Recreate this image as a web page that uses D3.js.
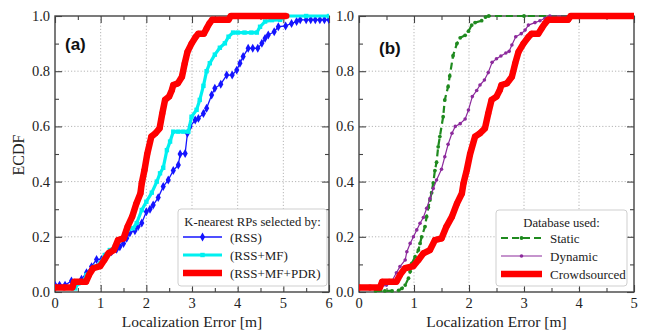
<!DOCTYPE html>
<html>
<head>
<meta charset="utf-8">
<script src="https://cdn.jsdelivr.net/npm/d3@7"></script>
<style>
  html, body { margin: 0; padding: 0; background: #fff; }
  svg { display: block; }
</style>
</head>
<body>
<svg id="chart" width="645" height="331"></svg>
<script>
// ---- ECDF samples: [error (m), cumulative fraction] ----
const rssOnly = [[0,0.025],[0.1,0.025],[0.22,0.025],[0.36,0.04],[0.58,0.046],[0.69,0.07],[0.8,0.092],[0.91,0.118],[1.02,0.118],[1.09,0.128],[1.24,0.146],[1.35,0.155],[1.42,0.164],[1.5,0.176],[1.57,0.195],[1.64,0.215],[1.75,0.222],[1.82,0.237],[1.9,0.25],[2.0,0.291],[2.08,0.3],[2.15,0.315],[2.26,0.342],[2.37,0.382],[2.48,0.406],[2.59,0.44],[2.7,0.46],[2.74,0.5],[2.85,0.502],[2.9,0.575],[2.96,0.6],[3.07,0.623],[3.14,0.629],[3.25,0.647],[3.32,0.666],[3.43,0.714],[3.5,0.738],[3.63,0.753],[3.76,0.786],[3.88,0.786],[3.98,0.804],[4.05,0.829],[4.12,0.853],[4.23,0.883],[4.33,0.883],[4.44,0.883],[4.53,0.901],[4.6,0.919],[4.67,0.931],[4.8,0.943],[4.89,0.961],[5.05,0.964],[5.18,0.973],[5.29,0.98],[5.37,0.986],[5.5,0.986],[5.6,0.986],[5.7,0.986],[5.8,0.986],[5.9,0.986],[6.0,0.986]];

const rssMf = [[0.44,0.013],[0.51,0.031],[0.62,0.037],[0.69,0.062],[0.77,0.074],[0.88,0.092],[0.99,0.104],[1.09,0.134],[1.2,0.152],[1.31,0.164],[1.42,0.188],[1.53,0.207],[1.6,0.225],[1.71,0.231],[1.79,0.25],[1.9,0.297],[2.0,0.327],[2.12,0.36],[2.23,0.4],[2.3,0.43],[2.37,0.45],[2.45,0.514],[2.52,0.545],[2.59,0.581],[2.7,0.581],[2.81,0.581],[2.92,0.581],[2.99,0.635],[3.1,0.66],[3.17,0.696],[3.25,0.747],[3.32,0.8],[3.39,0.829],[3.5,0.86],[3.61,0.885],[3.72,0.901],[3.8,0.925],[3.9,0.94],[4.0,0.94],[4.15,0.94],[4.3,0.94],[4.42,0.94],[4.49,0.961],[4.6,0.98],[4.75,0.985],[4.93,0.986],[5.07,1.0],[5.5,1.0],[6.0,1.0]];

// RSS+MF+PDR selection, which is also the crowdsourced database result
const rssMfPdr = [[0,0.016],[0.2,0.016],[0.38,0.016],[0.42,0.037],[0.55,0.037],[0.68,0.037],[0.745,0.062],[0.836,0.086],[0.99,0.094],[1.08,0.116],[1.17,0.14],[1.29,0.152],[1.38,0.188],[1.5,0.194],[1.59,0.237],[1.69,0.273],[1.78,0.32],[1.87,0.357],[1.9,0.394],[1.96,0.442],[2.02,0.5],[2.11,0.563],[2.2,0.575],[2.29,0.593],[2.35,0.647],[2.41,0.696],[2.5,0.708],[2.56,0.732],[2.59,0.75],[2.69,0.756],[2.78,0.78],[2.84,0.828],[2.9,0.87],[2.99,0.9],[3.08,0.924],[3.14,0.936],[3.26,0.936],[3.32,0.955],[3.38,0.973],[3.44,0.986],[3.6,0.986],[3.8,0.986],[3.85,1.0],[4.5,1.0],[5.07,1.0]];

const staticDb = [[0.3,0.004],[0.47,0.004],[0.6,0.004],[0.72,0.006],[0.78,0.013],[0.84,0.025],[0.9,0.05],[0.93,0.074],[0.96,0.104],[1.02,0.128],[1.08,0.152],[1.11,0.176],[1.14,0.2],[1.2,0.237],[1.23,0.273],[1.26,0.306],[1.29,0.333],[1.32,0.36],[1.35,0.395],[1.38,0.44],[1.41,0.47],[1.44,0.526],[1.47,0.563],[1.53,0.635],[1.56,0.696],[1.62,0.744],[1.65,0.783],[1.71,0.856],[1.78,0.9],[1.84,0.921],[1.93,0.93],[1.99,0.945],[2.05,0.967],[2.11,0.976],[2.23,0.983],[2.3,0.996],[2.36,1.0],[3.0,1.0],[4.0,1.0],[5.0,1.0]];

const dynamicDb = [[0,0.012],[0.2,0.012],[0.35,0.016],[0.5,0.025],[0.6,0.04],[0.68,0.07],[0.745,0.092],[0.84,0.116],[0.87,0.146],[0.93,0.176],[0.99,0.2],[1.05,0.225],[1.11,0.249],[1.17,0.27],[1.23,0.303],[1.29,0.339],[1.35,0.375],[1.41,0.406],[1.5,0.445],[1.56,0.49],[1.62,0.535],[1.69,0.575],[1.75,0.6],[1.84,0.61],[1.93,0.627],[1.99,0.659],[2.06,0.708],[2.14,0.73],[2.2,0.75],[2.28,0.768],[2.35,0.795],[2.42,0.832],[2.5,0.845],[2.58,0.855],[2.67,0.866],[2.73,0.872],[2.78,0.895],[2.85,0.925],[2.95,0.936],[3.02,0.949],[3.08,0.967],[3.2,0.976],[3.29,0.983],[3.38,0.992],[3.47,1.0],[4.0,1.0],[5.0,1.0]];

const yTicks = [0, 0.2, 0.4, 0.6, 0.8, 1.0];
const xTicksA = [0, 1, 2, 3, 4, 5, 6];
const xTicksB = [0, 1, 2, 3, 4, 5];
const legendTitleA = "K-nearest RPs selected by:";
const legendTitleB = "Database used:";
const seriesNamesA = ["(RSS)", "(RSS+MF)", "(RSS+MF+PDR)"];
const seriesNamesB = ["Static", "Dynamic", "Crowdsourced"];
const xTitle = "Localization Error [m]";
const yTitle = "ECDF";

// ---- styles ----
const SERIF = "Liberation Serif";
const styleRss    = {color: "#1414ff", width: 1.3, dash: null, marker: "diamond", r: 2.4};
const styleMf     = {color: "#00f0f0", width: 3.2, dash: null, marker: "square", r: 2.2};
const stylePdr    = {color: "#ff0000", width: 6.5, dash: null, marker: "circle", r: 3};
const styleStatic = {color: "#1f8a1f", width: 2.2, dash: "7,4", marker: "circle", r: 1.9};
const styleDyn    = {color: "#8c2a9c", width: 1.2, dash: null, marker: "circle", r: 1.8};

const svg = d3.select("#chart");
const plotTop = 16, plotBottom = 292;

function label(sel) {
  return sel.append("text").attr("font-family", SERIF).attr("fill", "#222");
}

function panel(cfg) {
  const x = d3.scaleLinear().domain([0, cfg.xmax]).range([cfg.x0, cfg.x1]);
  const y = d3.scaleLinear().domain([0, 1]).range([plotBottom, plotTop]);
  const g = svg.append("g");
  const clipId = "clip-" + cfg.id;
  svg.append("clipPath").attr("id", clipId).append("rect")
    .attr("x", cfg.x0).attr("y", plotTop - 6).attr("width", cfg.x1 - cfg.x0).attr("height", plotBottom - plotTop + 12);

  // grid
  const grid = g.append("g").attr("stroke", "#b5b5b5").attr("stroke-width", 1).attr("stroke-dasharray", "1.2,2");
  grid.selectAll(".gx").data(cfg.xTicks.slice(1, -1)).join("line")
    .attr("x1", d => x(d)).attr("x2", d => x(d)).attr("y1", plotTop).attr("y2", plotBottom);
  grid.selectAll(".gy").data(yTicks.slice(1, -1)).join("line")
    .attr("x1", cfg.x0).attr("x2", cfg.x1).attr("y1", d => y(d)).attr("y2", d => y(d));

  // inward ticks on all four sides via d3 axes
  const xMinor = d3.range(0.5, cfg.xmax, 1);
  const yMinor = d3.range(0.1, 1, 0.2);
  const mk = (axis) => axis.tickFormat("").tickSizeOuter(0);
  const axes = [
    [d3.axisBottom(x).tickValues(cfg.xTicks).tickSizeInner(-7), `translate(0,${plotBottom})`],
    [d3.axisBottom(x).tickValues(xMinor).tickSizeInner(-4), `translate(0,${plotBottom})`],
    [d3.axisTop(x).tickValues(cfg.xTicks).tickSizeInner(-7), `translate(0,${plotTop})`],
    [d3.axisTop(x).tickValues(xMinor).tickSizeInner(-4), `translate(0,${plotTop})`],
    [d3.axisLeft(y).tickValues(yTicks).tickSizeInner(-7), `translate(${cfg.x0},0)`],
    [d3.axisLeft(y).tickValues(yMinor).tickSizeInner(-4), `translate(${cfg.x0},0)`],
    [d3.axisRight(y).tickValues(yTicks).tickSizeInner(-7), `translate(${cfg.x1},0)`],
    [d3.axisRight(y).tickValues(yMinor).tickSizeInner(-4), `translate(${cfg.x1},0)`]
  ];
  axes.forEach(([a, t]) => {
    const ag = g.append("g").attr("transform", t).call(mk(a));
    ag.select(".domain").remove();
    ag.selectAll("text").remove();
    ag.selectAll("line").attr("stroke", "#444").attr("stroke-width", 1.1);
  });

  // tick labels
  cfg.xTicks.forEach(d => {
    label(g).attr("x", x(d)).attr("y", plotBottom + 16).attr("text-anchor", "middle")
      .attr("font-size", 14.5).text(d);
  });
  yTicks.forEach(d => {
    label(g).attr("x", cfg.x0 - 5).attr("y", y(d) + 5).attr("text-anchor", "end")
      .attr("font-size", 14.5).text(d.toFixed(1));
  });

  // frame
  g.append("rect").attr("x", cfg.x0).attr("y", plotTop).attr("width", cfg.x1 - cfg.x0).attr("height", plotBottom - plotTop)
    .attr("fill", "none").attr("stroke", "#444").attr("stroke-width", 1.4);

  // series
  const line = d3.line().x(d => x(d[0])).y(d => y(d[1]));
  const sg = g.append("g").attr("clip-path", `url(#${clipId})`);
  cfg.series.forEach(s => {
    sg.append("path").datum(s.data).attr("d", line).attr("fill", "none")
      .attr("stroke", s.style.color).attr("stroke-width", s.style.width)
      .attr("stroke-dasharray", s.style.dash).attr("stroke-linejoin", "round");
    drawMarkers(sg, s.data.map(d => [x(d[0]), y(d[1])]), s.style);
  });

  // axis title
  label(g).attr("x", (cfg.x0 + cfg.x1) / 2).attr("y", 327).attr("text-anchor", "middle")
    .attr("font-size", 15.5).text(xTitle);

  // panel tag
  g.append("text").attr("x", cfg.tagX).attr("y", cfg.tagY)
    .attr("font-family", "Liberation Sans").attr("font-weight", "bold")
    .attr("fill", "#111").attr("font-size", 17).text(cfg.tag);

  // legend
  const L = cfg.legend;
  const lg = g.append("g");
  lg.append("rect").attr("x", L.x).attr("y", L.y).attr("width", L.w).attr("height", L.h)
    .attr("rx", 3).attr("fill", "#fff").attr("stroke", "#cfcfcf").attr("stroke-width", 1);
  label(lg).attr("x", L.x + L.w / 2).attr("y", L.y + 17).attr("text-anchor", "middle")
    .attr("font-size", 12.7).text(L.title);
  cfg.series.forEach((s, i) => {
    const yy = L.y + 28 + i * 18;
    lg.append("line").attr("x1", L.x + 5).attr("x2", L.x + 5 + L.lineLen).attr("y1", yy).attr("y2", yy)
      .attr("stroke", s.style.color).attr("stroke-width", s.style.width).attr("stroke-dasharray", s.style.dash);
    drawMarkers(lg, [[L.x + 5 + L.lineLen / 2, yy]], s.style);
    label(lg).attr("x", L.x + L.textX).attr("y", yy + 5).attr("font-size", 13).text(s.name);
  });
}

function drawMarkers(sel, pts, st) {
  if (st.marker === "square") {
    sel.append("g").selectAll("rect").data(pts).join("rect")
      .attr("x", d => d[0] - st.r).attr("y", d => d[1] - st.r).attr("width", st.r * 2).attr("height", st.r * 2)
      .attr("fill", st.color);
  } else if (st.marker === "diamond") {
    sel.append("g").selectAll("path").data(pts).join("path")
      .attr("d", d3.symbol(d3.symbolDiamond, st.r * st.r * 4))
      .attr("transform", d => `translate(${d[0]},${d[1]})`).attr("fill", st.color);
  } else {
    sel.append("g").selectAll("circle").data(pts).join("circle")
      .attr("cx", d => d[0]).attr("cy", d => d[1]).attr("r", st.r).attr("fill", st.color);
  }
}

panel({
  id: "a", x0: 55, x1: 329, xmax: 6, xTicks: xTicksA, tag: "(a)", tagX: 65, tagY: 50,
  series: [
    {name: seriesNamesA[0], data: rssOnly, style: styleRss},
    {name: seriesNamesA[1], data: rssMf, style: styleMf},
    {name: seriesNamesA[2], data: rssMfPdr, style: stylePdr}
  ],
  legend: {x: 178, y: 209, w: 149, h: 77, title: legendTitleA, lineLen: 39, textX: 52}
});

panel({
  id: "b", x0: 359, x1: 634, xmax: 5, xTicks: xTicksB, tag: "(b)", tagX: 379, tagY: 54,
  series: [
    {name: seriesNamesB[0], data: staticDb, style: styleStatic},
    {name: seriesNamesB[1], data: dynamicDb, style: styleDyn},
    {name: seriesNamesB[2], data: rssMfPdr, style: stylePdr}
  ],
  legend: {x: 496, y: 210, w: 131, h: 76, title: legendTitleB, lineLen: 41, textX: 54}
});

// shared y title
label(svg).attr("transform", "translate(24,155) rotate(-90)").attr("text-anchor", "middle")
  .attr("font-size", 16).text(yTitle);
</script>
</body>
</html>
